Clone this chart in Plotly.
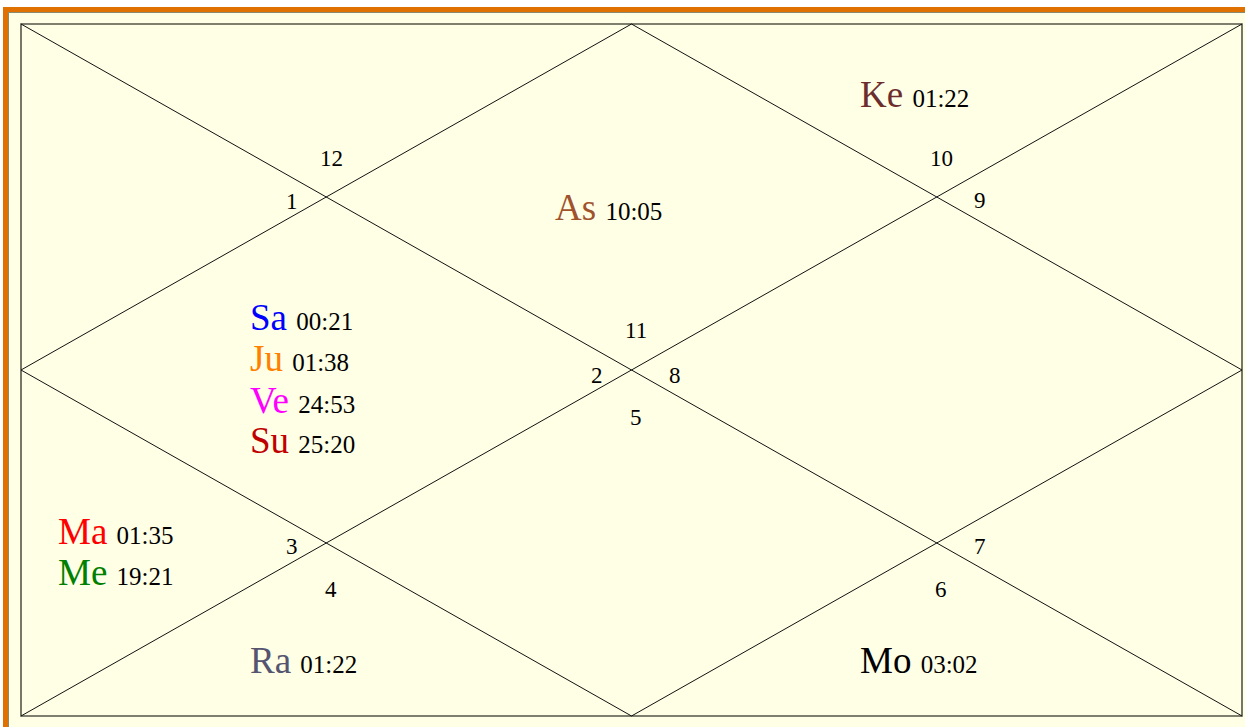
import plotly.graph_objects as go

# ---- data ----
house_numbers = ["12", "1", "10", "9", "11", "2", "8", "5", "3", "4", "7", "6"]
house_x = [331, 292, 941, 980, 636, 597, 675, 636, 292, 331, 980, 941]
house_y = [158, 201, 158, 200, 330, 375, 375, 417, 546, 589, 546, 589]

planets = ["Ke", "As", "Sa", "Ju", "Ve", "Su", "Ma", "Me", "Ra", "Mo"]
degrees = ["01:22", "10:05", "00:21", "01:38", "24:53", "25:20", "01:35", "19:21", "01:22", "03:02"]
planet_colors = ["#6B2D2D", "#A0522D", "#0000FF", "#FF7F00", "#FF00FF", "#C00000",
                 "#FF0000", "#008000", "#555570", "#000000"]
planet_x = [858, 553, 248, 248, 248, 248, 56, 56, 248, 858]
planet_base = [106, 219, 329, 370, 412, 452, 543, 584, 672, 672]

# chart geometry (pixels)
L, R, T, B = 21, 1242, 24, 716
W, H = 1245, 727

fig = go.Figure()
shapes = []
# orange outer frame
shapes.append(dict(type="rect", x0=3, x1=1260, y0=7, y1=740, fillcolor="#E07000",
                   line=dict(width=0), layer="below"))
shapes.append(dict(type="rect", x0=8.5, x1=1260, y0=12.5, y1=740, fillcolor="#FFFFE6",
                   line=dict(color="#8a8a70", width=1), layer="below"))
# inner rectangle
shapes.append(dict(type="rect", x0=L, x1=R, y0=T, y1=B, fillcolor="rgba(0,0,0,0)",
                   line=dict(color="#555548", width=1.6)))
cx, cy = (L + R) / 2, (T + B) / 2
lines = [
    (L, T, R, B), (R, T, L, B),
    (cx, T, R, cy), (R, cy, cx, B), (cx, B, L, cy), (L, cy, cx, T),
]
for x0, y0, x1, y1 in lines:
    shapes.append(dict(type="line", x0=x0, y0=y0, x1=x1, y1=y1,
                       line=dict(color="#111111", width=1)))

annotations = []
for t, x, y in zip(house_numbers, house_x, house_y):
    annotations.append(dict(x=x, y=y, text=t, showarrow=False, xanchor="center", yanchor="middle",
                            font=dict(family="Liberation Serif", size=23, color="#000000")))
for p, d, c, x, b in zip(planets, degrees, planet_colors, planet_x, planet_base):
    txt = (f"<span style='font-size:37px;color:{c}'>{p} </span>"
           f"<span style='font-size:25px;color:#000000'>{d}</span>")
    annotations.append(dict(x=x, y=b - 12, text=txt, showarrow=False, xanchor="left", yanchor="middle",
                            font=dict(family="Liberation Serif", size=37, color=c)))

fig.update_layout(
    width=W, height=H, margin=dict(l=0, r=0, t=0, b=0),
    paper_bgcolor="#FFFFFF", plot_bgcolor="#FFFFFF",
    xaxis=dict(range=[0, W], visible=False, fixedrange=True),
    yaxis=dict(range=[H, 0], visible=False, fixedrange=True),
    shapes=shapes, annotations=annotations, showlegend=False,
)
fig.write_html("out.html", config={"displayModeBar": False},
               post_script="document.body.style.margin='0';document.body.style.overflow='hidden';")
